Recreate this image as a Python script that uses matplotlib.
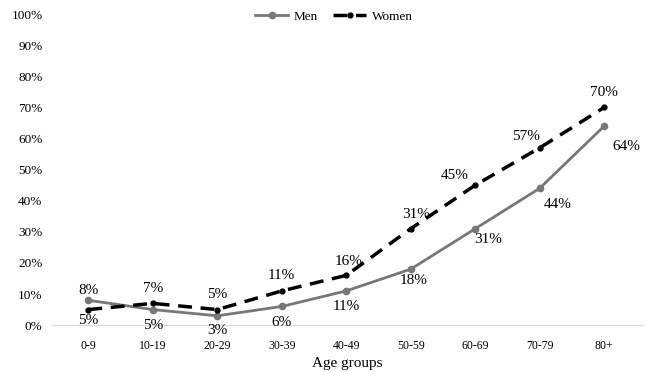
import numpy as np
import matplotlib.pyplot as plt
from matplotlib.ticker import PercentFormatter

plt.rcParams['font.family'] = ['Liberation Serif', 'DejaVu Serif']

# data
age_groups = ["0-9", "10-19", "20-29", "30-39", "40-49", "50-59", "60-69", "70-79", "80+"]
men = [8, 5, 3, 6, 11, 18, 31, 44, 64]
women = [5, 7, 5, 11, 16, 31, 45, 57, 70]

# label offsets (points) for each value
men_off = [(0, 7), (0, -11.5), (0, -10.5), (0, -11.5), (0, -11.5), (2, -8.5), (9, -8), (13, -12), (16, -15)]
women_off = [(0, -8), (0, 11), (0, 11), (0, 11), (2, 10), (4, 10), (-15, 7), (-10, 8), (0, 11)]

fig, ax = plt.subplots(figsize=(6.52, 3.72), dpi=100)
fig.subplots_adjust(left=0.08, right=0.986, bottom=0.126, top=0.962)

x = np.arange(len(age_groups))
ax.plot(x, men, color="#777777", lw=2, marker="o", ms=4.5, label="Men")
ax.plot(x, women, color="black", lw=2.5, ls=(0, (4, 2.5)), marker="o", ms=3.5, label="Women")

for i in range(len(x)):
    ax.annotate(f"{men[i]}%", (x[i], men[i]), xytext=men_off[i], textcoords="offset points",
                ha="center", va="center", fontsize=11)
    ax.annotate(f"{women[i]}%", (x[i], women[i]), xytext=women_off[i], textcoords="offset points",
                ha="center", va="center", fontsize=11)

ax.set_xlim(-0.56, 8.6)
ax.set_ylim(0, 100)
ax.set_xticks(x)
ax.set_xticklabels(age_groups, fontsize=8.5)
ax.set_yticks(np.arange(0, 101, 10))
ax.yaxis.set_major_formatter(PercentFormatter(decimals=0))
ax.tick_params(axis="y", labelsize=9.5, length=0, pad=7)
ax.tick_params(axis="x", length=0, pad=11)
for s in ["top", "right", "left"]:
    ax.spines[s].set_visible(False)
ax.spines["bottom"].set_color("#d9d9d9")
ax.set_xlabel("Age groups", fontsize=11, labelpad=3)

ax.legend(loc="upper center", bbox_to_anchor=(0.477, 1.05), ncol=2, frameon=False,
          fontsize=9.5, handlelength=2.5, columnspacing=1.2, handletextpad=0.4)

plt.savefig("out.png")
